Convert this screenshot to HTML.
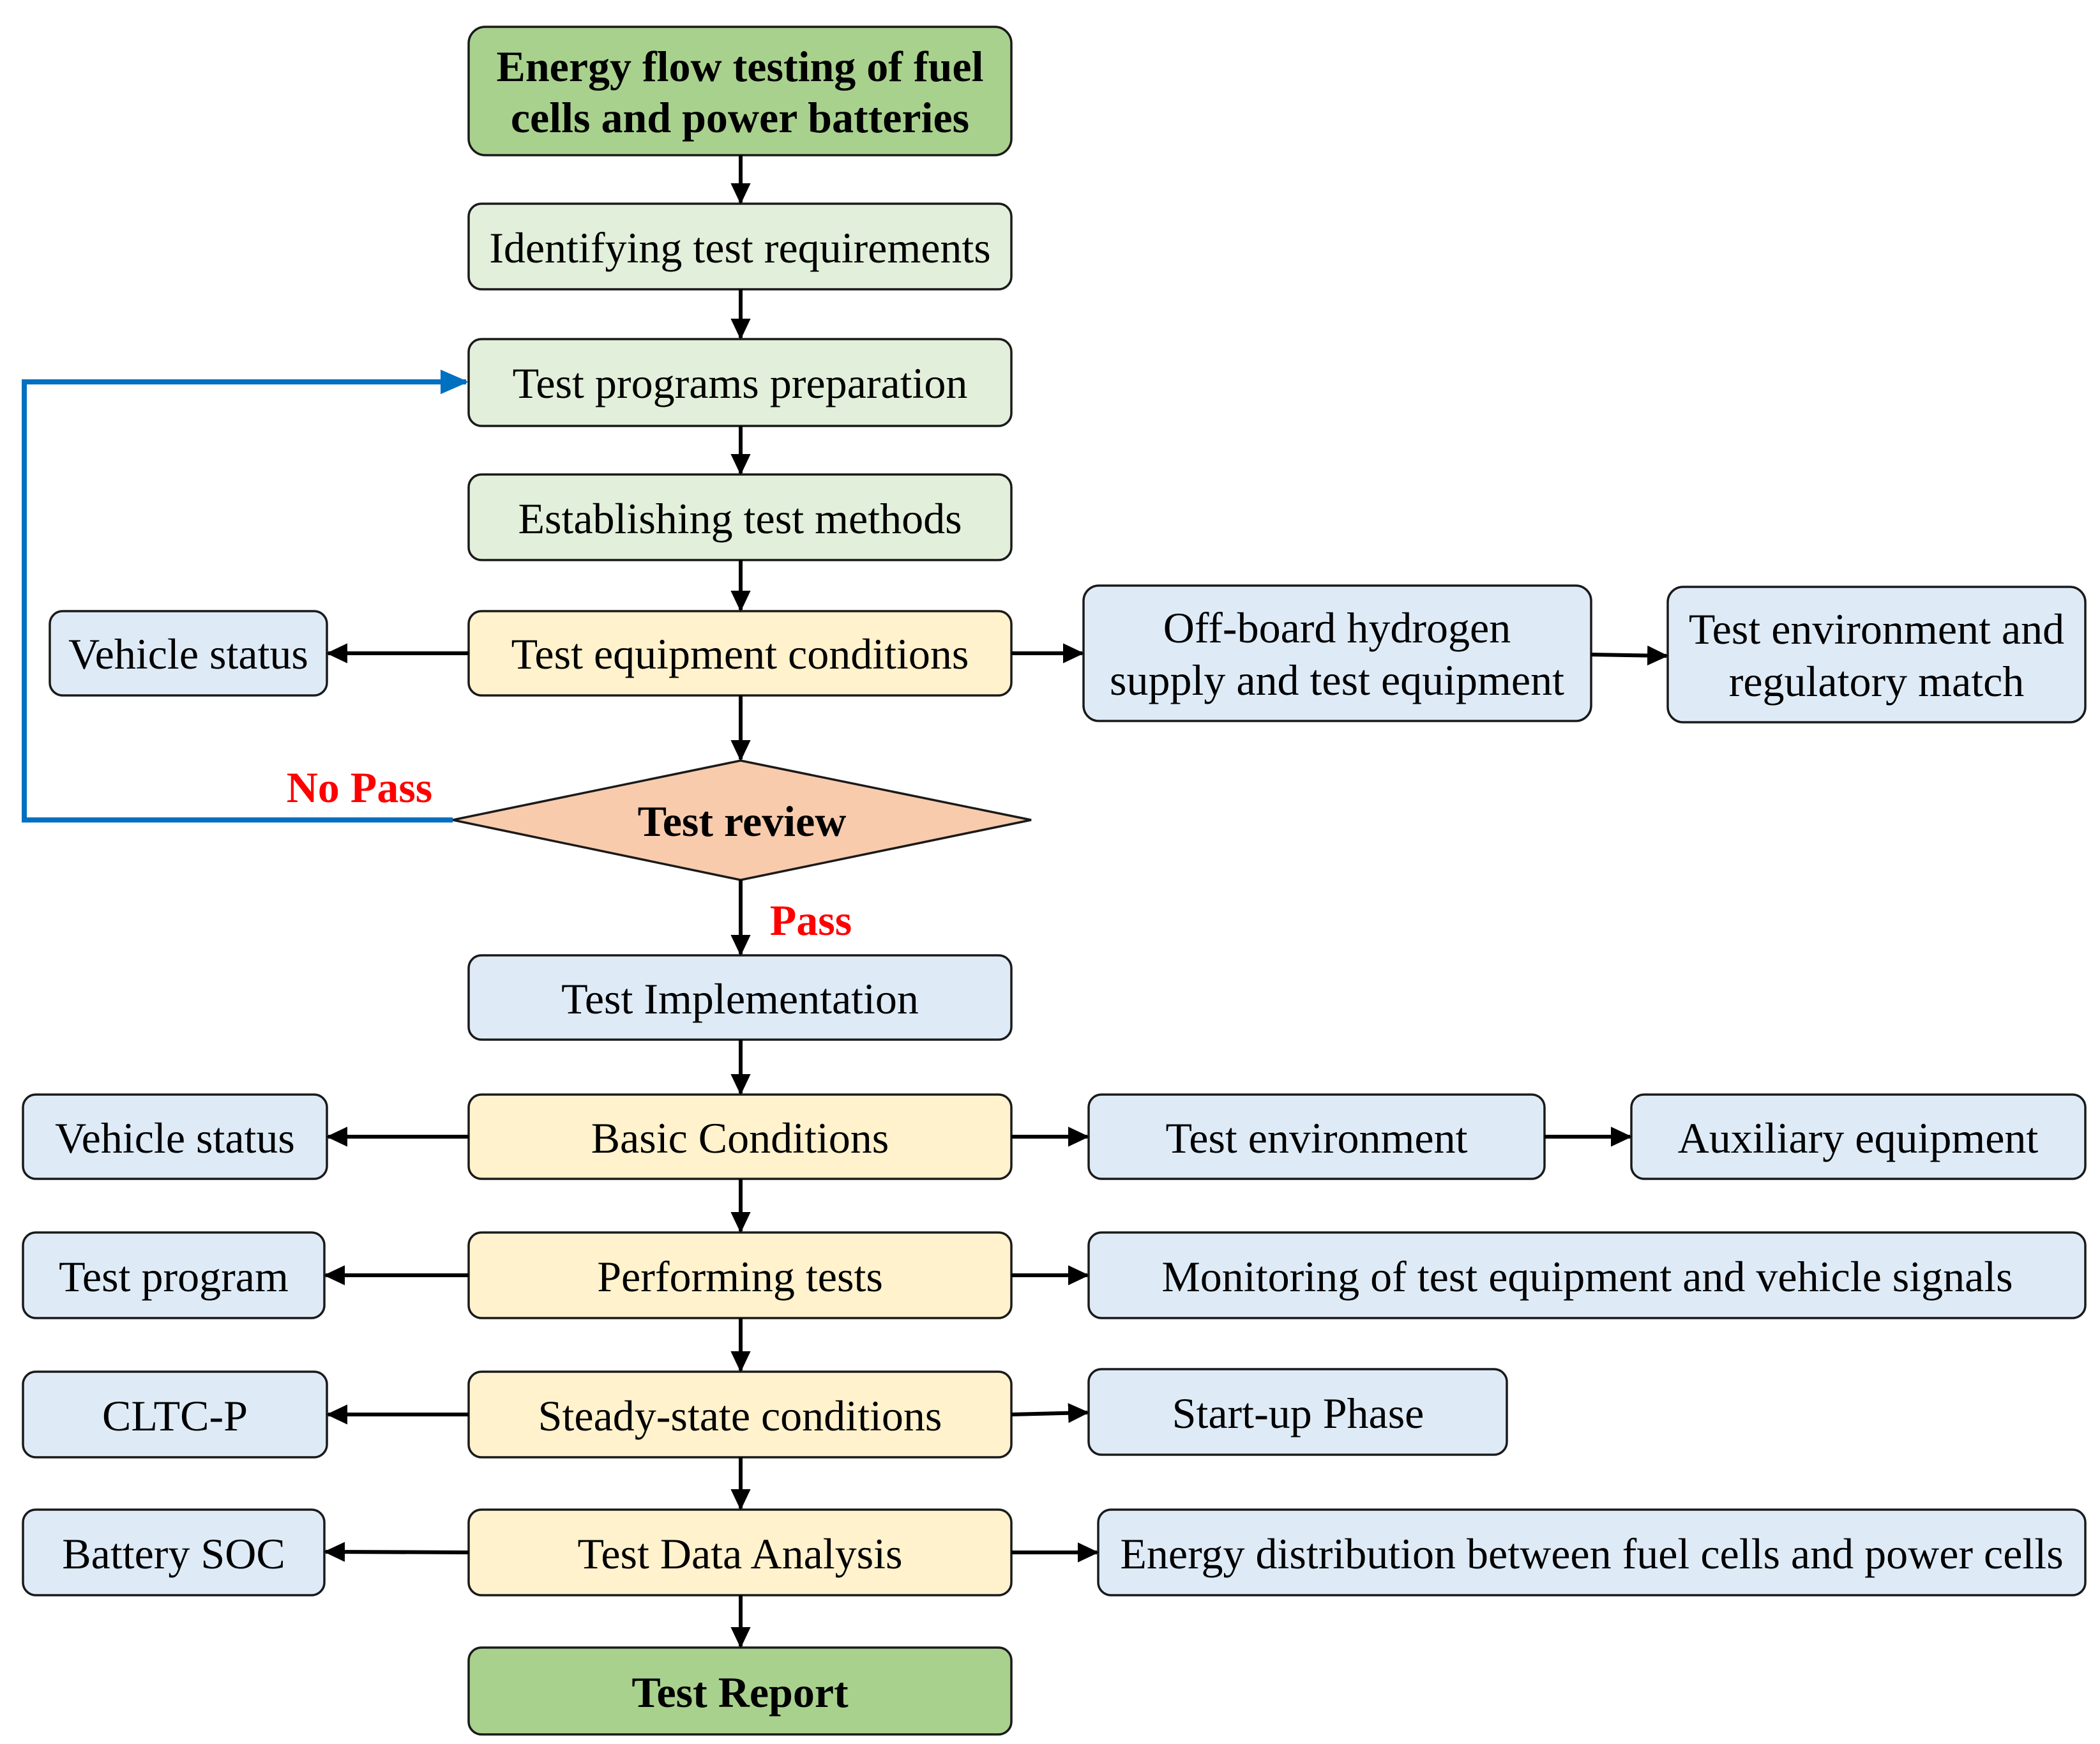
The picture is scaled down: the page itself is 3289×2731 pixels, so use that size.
<!DOCTYPE html>
<html><head><meta charset="utf-8"><style>html,body{margin:0;padding:0;background:#fff}svg{display:block}</style></head>
<body>
<svg width="3289" height="2731" viewBox="0 0 3289 2731" xmlns="http://www.w3.org/2000/svg" font-family="'Liberation Serif', serif">
<defs>
<marker id="a" markerWidth="6" markerHeight="6" refX="5" refY="3" orient="auto" markerUnits="strokeWidth"><path d="M0,0.4 L5.5,3 L0,5.6 z" fill="#000"/></marker>
<marker id="b" markerWidth="6" markerHeight="6" refX="5" refY="3" orient="auto" markerUnits="strokeWidth"><path d="M0,0.6 L5.5,3 L0,5.4 z" fill="#0070c0"/></marker>
</defs>
<g stroke="#1a1a1a" stroke-width="3.5">
<rect x="734" y="42" width="850" height="201" rx="26" fill="#a9d18e"/>
<rect x="734" y="319" width="850" height="134" rx="20" fill="#e2efda"/>
<rect x="734" y="531" width="850" height="136" rx="20" fill="#e2efda"/>
<rect x="734" y="743" width="850" height="134" rx="20" fill="#e2efda"/>
<rect x="734" y="957" width="850" height="132" rx="20" fill="#fff2cc"/>
<rect x="78" y="957" width="434" height="132" rx="20" fill="#deebf7"/>
<rect x="1697" y="917" width="795" height="212" rx="24" fill="#deebf7"/>
<rect x="2612" y="919" width="654" height="212" rx="24" fill="#deebf7"/>
<polygon points="709,1284 1160,1191 1615,1284 1160,1378" fill="#f8cbad"/>
<rect x="734" y="1496" width="850" height="132" rx="20" fill="#deebf7"/>
<rect x="734" y="1714" width="850" height="132" rx="20" fill="#fff2cc"/>
<rect x="36" y="1714" width="476" height="132" rx="20" fill="#deebf7"/>
<rect x="1705" y="1714" width="714" height="132" rx="20" fill="#deebf7"/>
<rect x="2555" y="1714" width="711" height="132" rx="20" fill="#deebf7"/>
<rect x="734" y="1930" width="850" height="134" rx="20" fill="#fff2cc"/>
<rect x="36" y="1930" width="472" height="134" rx="20" fill="#deebf7"/>
<rect x="1705" y="1930" width="1561" height="134" rx="20" fill="#deebf7"/>
<rect x="734" y="2148" width="850" height="134" rx="20" fill="#fff2cc"/>
<rect x="36" y="2148" width="476" height="134" rx="20" fill="#deebf7"/>
<rect x="1705" y="2144" width="655" height="134" rx="20" fill="#deebf7"/>
<rect x="734" y="2364" width="850" height="134" rx="20" fill="#fff2cc"/>
<rect x="36" y="2364" width="472" height="134" rx="20" fill="#deebf7"/>
<rect x="1720" y="2364" width="1546" height="134" rx="20" fill="#deebf7"/>
<rect x="734" y="2580" width="850" height="136" rx="20" fill="#a9d18e"/>
</g>
<g stroke="#000" stroke-width="6" fill="none" marker-end="url(#a)">
<line x1="1160" y1="243" x2="1160" y2="317"/>
<line x1="1160" y1="453" x2="1160" y2="529"/>
<line x1="1160" y1="667" x2="1160" y2="741"/>
<line x1="1160" y1="877" x2="1160" y2="955"/>
<line x1="1160" y1="1089" x2="1160" y2="1189"/>
<line x1="1160" y1="1378" x2="1160" y2="1494"/>
<line x1="1160" y1="1628" x2="1160" y2="1712"/>
<line x1="1160" y1="1846" x2="1160" y2="1928"/>
<line x1="1160" y1="2064" x2="1160" y2="2146"/>
<line x1="1160" y1="2282" x2="1160" y2="2362"/>
<line x1="1160" y1="2498" x2="1160" y2="2578"/>
<line x1="734" y1="1023" x2="514" y2="1023"/>
<line x1="1584" y1="1023" x2="1695" y2="1023"/>
<line x1="2492" y1="1025" x2="2610" y2="1027"/>
<line x1="734" y1="1780" x2="514" y2="1780"/>
<line x1="1584" y1="1780" x2="1703" y2="1780"/>
<line x1="2419" y1="1780" x2="2553" y2="1780"/>
<line x1="734" y1="1997" x2="510" y2="1997"/>
<line x1="1584" y1="1997" x2="1703" y2="1997"/>
<line x1="734" y1="2215" x2="514" y2="2215"/>
<line x1="1584" y1="2215" x2="1703" y2="2212"/>
<line x1="734" y1="2431" x2="510" y2="2430"/>
<line x1="1584" y1="2431" x2="1718" y2="2431"/>
</g>
<polyline points="709,1284 38,1284 38,598 730,598" fill="none" stroke="#0070c0" stroke-width="8" marker-end="url(#b)"/>
<g font-size="68" text-anchor="middle" dominant-baseline="central" fill="#000">
<text x="1159" y="104" font-weight="bold">Energy flow testing of fuel</text>
<text x="1159" y="184" font-weight="bold">cells and power batteries</text>
<text x="1159" y="388">Identifying test requirements</text>
<text x="1159" y="600">Test programs preparation</text>
<text x="1159" y="812">Establishing test methods</text>
<text x="1159" y="1024">Test equipment conditions</text>
<text x="295" y="1024">Vehicle status</text>
<text x="2094" y="983">Off-board hydrogen</text>
<text x="2094" y="1065">supply and test equipment</text>
<text x="2939" y="985">Test environment and</text>
<text x="2939" y="1067">regulatory match</text>
<text x="1162" y="1286" font-weight="bold">Test review</text>
<text x="1159" y="1564">Test Implementation</text>
<text x="1159" y="1782">Basic Conditions</text>
<text x="274" y="1782">Vehicle status</text>
<text x="2062" y="1782">Test environment</text>
<text x="2910" y="1782">Auxiliary equipment</text>
<text x="1159" y="1999">Performing tests</text>
<text x="272" y="1999">Test program</text>
<text x="2486" y="1999">Monitoring of test equipment and vehicle signals</text>
<text x="1159" y="2217">Steady-state conditions</text>
<text x="274" y="2217">CLTC-P</text>
<text x="2033" y="2213">Start-up Phase</text>
<text x="1159" y="2433">Test Data Analysis</text>
<text x="272" y="2433">Battery SOC</text>
<text x="2493" y="2433">Energy distribution between  fuel cells and power cells</text>
<text x="1159" y="2650" font-weight="bold">Test Report</text>
<text x="563" y="1233" font-weight="bold" fill="#ff0000">No Pass</text>
<text x="1270" y="1441" font-weight="bold" fill="#ff0000">Pass</text>
</g>
</svg>
</body></html>
